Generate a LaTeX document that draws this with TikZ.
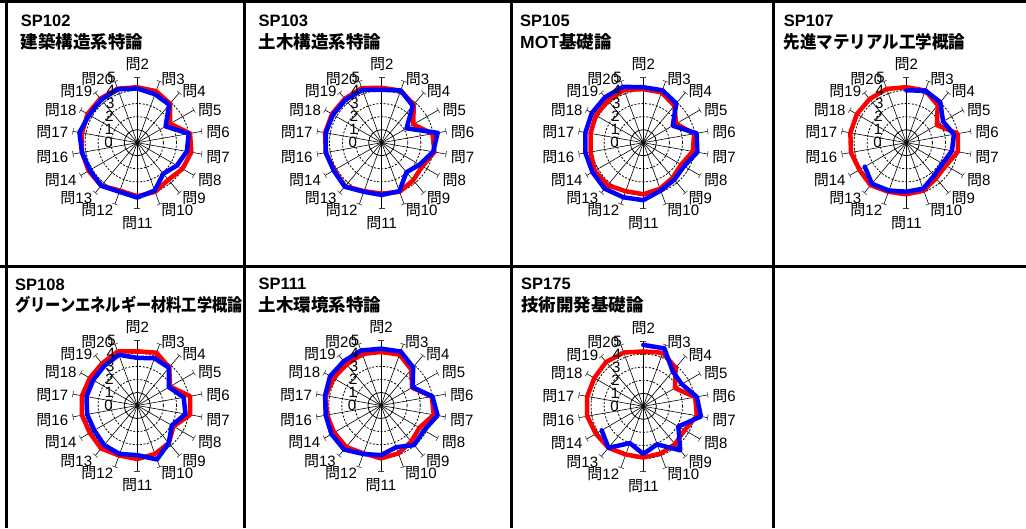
\documentclass[tikz,border=0pt]{standalone}
\usepackage{fontspec}
\setmainfont{Liberation Sans}
\newfontfamily\jp{Noto Sans CJK JP}
\newfontfamily\lat{Liberation Sans}
\def\U{13.06}
\tikzset{
  border/.style={line width=3.3pt, black},
  gridsolid/.style={line width=0.8pt, black},
  griddash/.style={line width=0.8pt, black, dash pattern=on 2pt off 1.6pt},
  spoke/.style={line width=0.6pt, black},
  tickmark/.style={line width=0.6pt, black!75},
  redline/.style={line width=4.5pt, red, line join=round, line cap=round},
  blueline/.style={line width=4.5pt, blue, line join=round, line cap=round},
  axlabel/.style={inner sep=0pt, font=\fontsize{15}{15}\selectfont},
  ttl/.style={anchor=base west, inner sep=0pt, font=\fontsize{16.5}{16.5}\selectfont\bfseries},
  ttljp/.style={anchor=base west, inner sep=0pt, font=\fontsize{17.5}{17.5}\selectfont\jp\bfseries},
}
\newcommand\radarbase{%
  \draw[gridsolid] (0,0) circle (\U);
  \foreach \k in {2,3,4} \draw[griddash] (0,0) circle ({\k*\U});
  \foreach \a in {0,...,17} {
    \draw[spoke] (0,0) -- ({90-20*\a}:{5*\U});
    \foreach \k in {4,5} \draw[tickmark] ({90-20*\a}:{\k*\U}) ++({-20*\a}:3) -- ++({180-20*\a}:6);
  }
  \fill (0,0) circle (1);
}
\newcommand\radarlabels[1]{%
  \foreach \n [count=\a from 0] in {2,3,4,5,6,7,8,9,10,11,12,13,14,16,17,18,19,20} {
    \ifnum\a=0
      \node[axlabel,anchor=south] (#1-\n) at (0,71.7) {{\jp 問}\n};
    \else\ifnum\a=9
      \node[axlabel,anchor=north] (#1-\n) at (0,-73.3) {{\jp 問}\n};
    \else\ifnum\a<9
      \node[axlabel,anchor=west,yshift=-2pt] (#1-\n) at ({90-20*\a}:70) {{\jp 問}\n};
    \else
      \node[axlabel,anchor=east,yshift=-2pt] (#1-\n) at ({90-20*\a}:70) {{\jp 問}\n};
    \fi\fi\fi
  }
  \foreach \k in {0,...,5} \node[axlabel,anchor=east] (#1-v\k) at ({-24.5+0.6*\k},{\k*\U}) {\k};
}
\newcommand\redpoly[2]{\draw[redline] (90:{#1*\U}) \foreach \v [count=\i] in {#2} { -- ({90-20*\i}:{\v*\U}) } -- cycle;}
\newcommand\bluepoly[2]{\draw[blueline] (90:{#1*\U}) \foreach \v [count=\i] in {#2} { -- ({90-20*\i}:{\v*\U}) } -- cycle;}
\newcommand\bluepath[2]{\draw[blueline] (90:{#1*\U}) \foreach \v [count=\i] in {#2} { -- ({90-20*\i}:{\v*\U}) };}
\begin{document}
\begin{tikzpicture}[x=1pt,y=1pt]
\useasboundingbox (0,0) rectangle (1026,-528);
% table lines
\draw[border] (0,-1.65) -- (1026,-1.65);
\draw[border] (0,-266.3) -- (1026,-266.3);
\draw[border] (6.5,0) -- (6.5,-528);
\draw[border] (244.7,0) -- (244.7,-528);
\draw[border] (511.7,0) -- (511.7,-528);
\draw[border] (773.7,0) -- (773.7,-528);
% titles
\node[ttl] (t1a) at (20.7,-26.7) {SP102};
\node[ttljp] (t1b) at (20.7,-48.5) {建築構造系特論};
\node[ttl] (t2a) at (258.3,-26.7) {SP103};
\node[ttljp] (t2b) at (258.3,-48.5) {土木構造系特論};
\node[ttl] (t3a) at (520,-26.7) {SP105};
\node[ttljp] (t3b) at (520,-48.5) {{\lat MOT}基礎論};
\node[ttl] (t4a) at (783.7,-26.7) {SP107};
\node[ttljp] (t4b) at (783.7,-48.5) {\scalebox{0.944}[1]{先進マテリアル工学概論}};
\node[ttl] (t5a) at (15,-290) {SP108};
\node[ttljp] (t5b) at (15,-311) {\scalebox{0.87}[1]{グリーンエネルギー材料工学概論}};
\node[ttl] (t6a) at (258.3,-289.5) {SP111};
\node[ttljp] (t6b) at (258.3,-311) {土木環境系特論};
\node[ttl] (t7a) at (521,-289.5) {SP175};
\node[ttljp] (t7b) at (521,-311) {技術開発基礎論};
% chart 1
\begin{scope}[shift={(137.3,-142.7)}]
\radarbase
\redpoly{4.25}{4.2,3.9,2.9,4.1,4.2,4.0,3.7,4.0,4.1,3.9,4.3,4.3,4.3,4.3,4.4,4.4,4.4}
\bluepoly{4.15}{3.95,3.8,2.5,4.0,3.85,3.5,3.1,3.9,4.2,4.0,4.3,4.2,4.3,4.5,4.25,4.3,4.35}
\radarlabels{c1}
\end{scope}
% chart 2
\begin{scope}[shift={(381.7,-142.7)}]
\radarbase
\redpoly{4.2}{4.25,3.8,2.8,3.95,4.1,3.6,3.75,4.0,3.9,3.95,4.35,4.2,4.35,4.4,4.4,4.4,4.45}
\bluepoly{4.05}{4.25,3.7,2.2,4.35,4.0,3.35,2.95,3.95,4.0,4.0,4.4,4.25,4.35,4.35,4.3,4.3,4.3}
\radarlabels{c2}
\end{scope}
% chart 3
\begin{scope}[shift={(643.3,-142.7)}]
\radarbase
\redpoly{4.1}{4.1,3.7,2.9,3.95,3.85,3.35,3.5,3.75,3.95,3.95,4.25,4.3,4.1,4.1,4.2,4.2,4.3}
\bluepoly{4.25}{4.27,3.93,2.6,4.15,4.2,3.6,3.7,3.9,4.4,4.45,4.6,4.5,4.5,4.5,4.55,4.55,4.55}
\radarlabels{c3}
\end{scope}
% chart 4
\begin{scope}[shift={(906.3,-142.7)}]
\radarbase
\redpoly{4.25}{4.25,3.75,2.7,4.0,4.0,3.5,3.55,3.9,3.95,4.0,4.25,4.15,4.3,4.35,4.37,4.37,4.38}
\bluepath{4.0}{4.25,4.05,3.25,3.7,3.55,3.2,3.3,3.75,3.75,3.9,4.1,3.67}
\radarlabels{c4}
\end{scope}
% chart 5
\begin{scope}[shift={(137.3,-405.5)}]
\radarbase
\redpoly{4.15}{4.3,3.8,2.9,4.1,4.1,3.2,3.75,3.95,4.1,4.07,4.3,4.2,4.3,4.3,4.2,4.2,4.4}
\bluepoly{3.65}{3.85,3.77,2.8,3.6,3.75,3.05,3.75,4.4,3.8,3.95,3.95,3.8,3.9,3.95,3.9,3.95,4.13}
\radarlabels{c5}
\end{scope}
% chart 6
\begin{scope}[shift={(381,-405.5)}]
\radarbase
\redpoly{4.1}{4.15,3.6,2.75,3.95,4.1,3.4,3.6,3.9,4.05,3.9,4.15,4.15,4.2,4.3,4.2,4.1,4.2}
\bluepoly{4.35}{4.4,3.83,2.8,4.0,4.4,3.8,3.95,3.4,3.8,3.95,4.4,4.38,4.3,4.35,4.5,4.43,4.48}
\radarlabels{c6}
\end{scope}
% chart 7
\begin{scope}[shift={(643.3,-406.3)}]
\radarbase
\redpoly{4.2}{4.36,3.85,2.8,4.03,4.17,3.65,3.78,3.85,3.92,3.93,4.15,4.2,4.36,4.36,4.33,4.43,4.38}
\bluepath{4.7}{4.72,3.5,3.4,4.16,4.48,3.1,4.4,3.1,3.65,3.0,4.15,3.68}
\radarlabels{c7}
\end{scope}
\end{tikzpicture}
\end{document}
